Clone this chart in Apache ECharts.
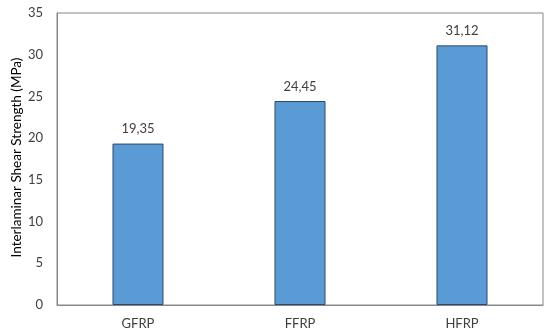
<!DOCTYPE html>
<html><head><meta charset="utf-8">
<script src="https://cdn.jsdelivr.net/npm/echarts@6/dist/echarts.min.js"></script>
<style>html,body{margin:0;padding:0;background:#fff}#c{width:550px;height:336px}</style>
</head><body><div id="c"></div>
<script>
const categories = ['GFRP', 'FFRP', 'HFRP'];
const values = [19.35, 24.45, 31.12];
const yTicks = [0, 5, 10, 15, 20, 25, 30, 35];
const yTitle = 'Interlaminar Shear Strength (MPa)';

const chart = echarts.init(document.getElementById('c'), null, {renderer: 'canvas'});
chart.setOption({
  animation: false,
  grid: {left: 57, right: 7, top: 13, bottom: 31, show: true, borderColor: '#878787', borderWidth: 1,
    backgroundColor: 'transparent', outerBoundsMode: 'none', containLabel: false},
  xAxis: {
    type: 'category', data: categories,
    axisLine: {lineStyle: {color: '#878787'}},
    axisTick: {show: false},
    axisLabel: {color: '#404040', fontFamily: 'Lato', fontSize: 13, margin: 12}
  },
  yAxis: {
    type: 'value', min: yTicks[0], max: yTicks[yTicks.length - 1], interval: 5,
    name: yTitle, nameLocation: 'middle', nameGap: 33, nameMoveOverlap: false,
    nameTextStyle: {color: '#000', fontFamily: 'Lato', fontSize: 13.5, padding: [0, 0, 0, 3]},
    axisLine: {show: true, lineStyle: {color: '#878787'}},
    axisTick: {show: false},
    splitLine: {show: false},
    axisLabel: {color: '#404040', fontFamily: 'Lato', fontSize: 13, margin: 14}
  },
  series: [{
    type: 'bar', data: values, barWidth: '31.5%',
    itemStyle: {color: '#5B9BD5', borderColor: '#2E4A6A', borderWidth: 1},
    label: {show: true, position: 'top', distance: 8, color: '#404040', fontFamily: 'Lato', fontSize: 13,
      formatter: p => p.value.toFixed(2).replace('.', ',')}
  }]
});
</script></body></html>
